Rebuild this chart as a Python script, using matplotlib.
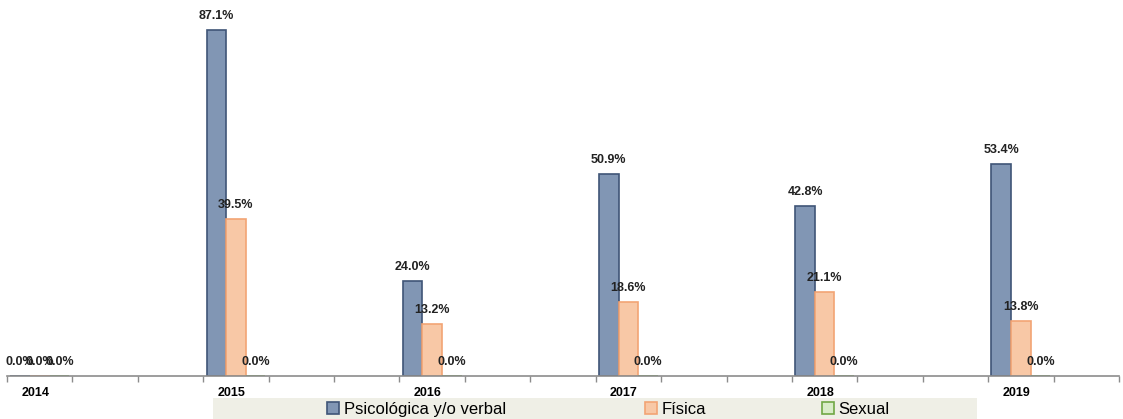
import matplotlib.pyplot as plt
from matplotlib.patches import Rectangle, Patch

years = ['2014', '2015', '2016', '2017', '2018', '2019']
psicologica = [0.0, 87.1, 24.0, 50.9, 42.8, 53.4]
fisica = [0.0, 39.5, 13.2, 18.6, 21.1, 13.8]
sexual = [0.0, 0.0, 0.0, 0.0, 0.0, 0.0]

plt.rcParams['font.family'] = ['Liberation Sans', 'DejaVu Sans']

fig = plt.figure(figsize=(11.23, 4.19), dpi=100)
ax = fig.add_axes([7 / 1123, 43 / 419, 1112 / 1123, 376 / 419])

w = 0.3
centers = [0.5 + 3 * i for i in range(len(years))]
series = [
    (psicologica, '#8196b4', '#3f5577', 'Psicológica y/o verbal'),
    (fisica, '#f8c8a6', '#f2a474', 'Física'),
    (sexual, '#d9ecc8', '#70a844', 'Sexual'),
]

for k, (vals, fc, ec, name) in enumerate(series):
    xs = [c + (k - 1) * w for c in centers]
    ax.bar(xs, vals, width=w, color=fc, edgecolor=ec, linewidth=1.2)
    for x, v in zip(xs, vals):
        ax.text(x, v + 2.0, f'{v:.1f}%', ha='center', va='bottom',
                fontsize=9, fontweight='bold', color='#222222')

ax.set_xlim(0, 17)
ax.set_ylim(0, 94.66)
ax.set_yticks([])
for s in ['top', 'right', 'left']:
    ax.spines[s].set_visible(False)
ax.spines['bottom'].set_color('#8c8c8c')
ax.spines['bottom'].set_linewidth(1.2)

ax.set_xticks(range(0, 18), minor=True)
ax.tick_params(axis='x', which='minor', length=4, color='#8c8c8c', width=1)
ax.set_xticks([c - 0.07 for c in centers])
ax.set_xticklabels(years, fontsize=9, fontweight='bold')
ax.tick_params(axis='x', which='major', length=0, pad=8)

# legend box
fig.patches.append(Rectangle((213 / 1123, 0), (977 - 213) / 1123, 21 / 419,
                             transform=fig.transFigure, facecolor='#efefe6',
                             edgecolor='none', zorder=0))
legend_x = [327, 645, 822]
for (vals, fc, ec, name), lx in zip(series, legend_x):
    h = Patch(facecolor=fc, edgecolor=ec, linewidth=1.2)
    fig.legend(handles=[h], labels=[name], loc='center left',
               bbox_to_anchor=(lx / 1123, 10 / 419), frameon=False,
               fontsize=12, handlelength=0.7, handleheight=0.7,
               handletextpad=0.3, borderpad=0, borderaxespad=0)

fig.savefig('out.png', dpi=100)
